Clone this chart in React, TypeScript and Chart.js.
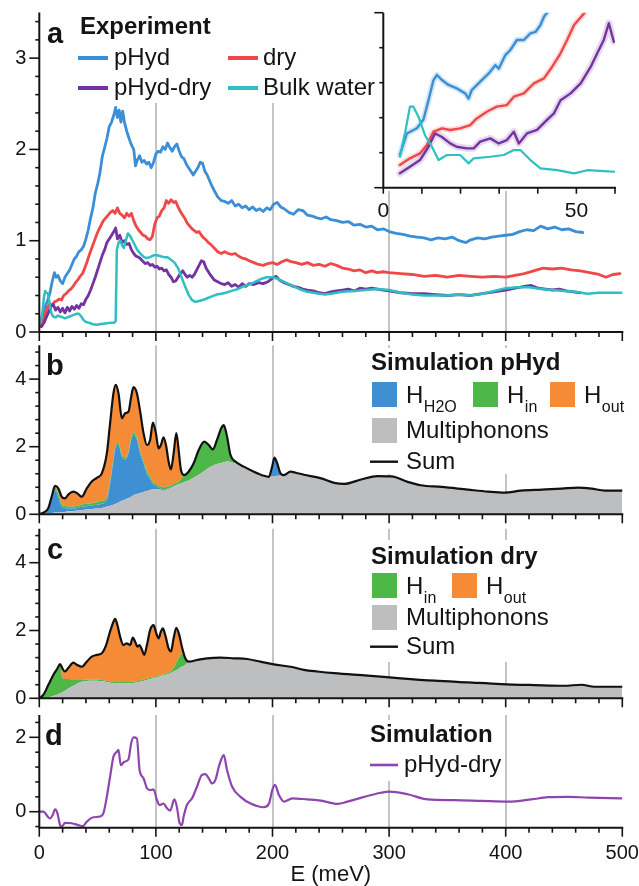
import React, { useEffect, useRef } from 'react';
import { Chart, registerables } from 'chart.js';
Chart.register(...registerables);

const FONT = "'Liberation Sans', Arial, Helvetica, sans-serif";
const INK = '#141414';
const GRID = '#c4c4c4';

const C_PHYD = '#3a8fd6';
const C_DRY = '#ef4848';
const C_DIFF = '#7333a0';
const C_BULK = '#2ebfc2';
const C_H2O = '#3f90d3';
const C_IN = '#4db848';
const C_OUT = '#f58b37';
const C_MULTI = '#bcbec0';
const C_SIMDIFF = '#8e45ae';

// ---------------- Panel a : experiment ----------------
const pHydE = [
  1.5, 3, 5, 7, 9, 11, 13, 14.5, 16, 18,
  20, 22, 24, 26, 28, 30, 32, 34, 36, 38,
  40, 42, 44, 46, 48, 50, 52, 54, 56, 58,
  60, 62, 64, 65.5, 67, 68.5, 70, 71.5, 73, 75,
  77, 79, 81, 82.5, 84, 86, 88, 90, 92, 94,
  96, 98, 100, 102, 104, 106, 108, 110, 112, 114,
  116, 118, 120, 122, 124, 126, 128, 130, 132, 134,
  136, 138, 140, 142, 144, 146, 148, 150, 153, 156,
  159, 162, 165, 168, 171, 174, 177, 180, 183, 186,
  189, 192, 195, 198, 201, 204, 207, 210, 214, 218,
  222, 226, 230, 234, 238, 242, 246, 250, 255, 260,
  265, 270, 275, 280, 285, 290, 295, 300, 306, 312,
  318, 324, 330, 336, 342, 348, 354, 360, 366, 370,
  376, 382, 388, 394, 400, 406, 412, 418, 424, 430,
  436, 442, 448, 454, 460, 466,
];
const pHydI = [
  0.1, 0.2, 0.28, 0.34, 0.42, 0.55, 0.65, 0.6, 0.62, 0.56,
  0.53, 0.6, 0.64, 0.68, 0.74, 0.8, 0.83, 0.88, 0.9, 0.94,
  1.02, 1.12, 1.25, 1.36, 1.52, 1.62, 1.74, 1.92, 2.02, 2.12,
  2.25, 2.3, 2.38, 2.46, 2.35, 2.43, 2.3, 2.42, 2.3, 2.2,
  2.12, 2.05, 2.0, 1.82, 1.88, 1.93, 1.86, 1.88, 1.84, 1.86,
  1.8, 1.86, 1.95, 1.98, 1.97, 2.03, 2.0, 2.07, 2.02, 1.98,
  2.03, 2.06, 1.98, 1.92, 1.9, 1.84, 1.8, 1.76, 1.72, 1.76,
  1.8, 1.86, 1.85, 1.76, 1.72, 1.66, 1.6, 1.55, 1.48, 1.44,
  1.43, 1.41, 1.44, 1.38, 1.4, 1.36, 1.38, 1.34, 1.37, 1.33,
  1.35, 1.32, 1.36, 1.34, 1.4, 1.42, 1.37, 1.35, 1.31, 1.29,
  1.34, 1.33, 1.28, 1.27, 1.25, 1.24, 1.26, 1.23, 1.22, 1.2,
  1.21, 1.17, 1.18, 1.15, 1.16, 1.12, 1.13, 1.1, 1.08, 1.07,
  1.05, 1.04, 1.03, 1.01, 1.03, 1.02, 1.04, 1.0, 0.98, 1.01,
  1.03, 1.02, 1.04, 1.05, 1.06, 1.07, 1.1, 1.12, 1.11, 1.16,
  1.13, 1.15, 1.12, 1.13, 1.1, 1.09,
];

const dryE = [
  1, 3, 5, 7, 9, 11, 13, 15, 17, 19,
  21, 23, 25, 27, 29, 31, 33, 35, 37, 39,
  41, 43, 45, 47, 49, 51, 53, 55, 57, 59,
  61, 63, 65, 67, 69, 71, 73, 75, 77, 79,
  81, 83, 85, 87, 89, 91, 93, 95, 97, 99,
  101, 103, 105, 107, 109, 111, 113, 115, 117, 119,
  121, 123, 125, 127, 129, 131, 133, 135, 137, 139,
  141, 143, 145, 147, 150, 153, 156, 159, 162, 165,
  168, 171, 174, 177, 180, 184, 188, 192, 196, 200,
  204, 208, 212, 216, 220, 225, 230, 235, 240, 245,
  250, 255, 260, 265, 270, 275, 280, 285, 290, 295,
  300, 310, 320, 330, 340, 350, 360, 370, 380, 390,
  400, 408, 416, 424, 432, 440, 448, 456, 464, 472,
  480, 486, 492, 498,
];
const dryI = [
  0.06, 0.12, 0.2, 0.27, 0.31, 0.29, 0.33, 0.34, 0.36, 0.35,
  0.4, 0.42, 0.45, 0.47, 0.5, 0.54, 0.57, 0.61, 0.64, 0.7,
  0.77, 0.85, 0.92, 0.99, 1.06, 1.12, 1.17, 1.22, 1.25, 1.28,
  1.31, 1.33, 1.3, 1.36, 1.3, 1.28, 1.25, 1.3, 1.27, 1.3,
  1.22, 1.16, 1.12, 1.09, 1.06, 1.05, 1.02, 1.01, 1.05, 1.18,
  1.25, 1.27, 1.33, 1.36, 1.44, 1.41, 1.45, 1.42, 1.43, 1.37,
  1.32, 1.28, 1.24, 1.19, 1.16, 1.13, 1.11, 1.09, 1.1, 1.06,
  1.03, 1.01, 0.98, 0.96, 0.92, 0.88, 0.86, 0.88, 0.86, 0.85,
  0.86, 0.83, 0.81, 0.8, 0.78, 0.76, 0.74, 0.73, 0.75, 0.76,
  0.74, 0.77, 0.79, 0.77, 0.76, 0.74, 0.76, 0.73, 0.74, 0.72,
  0.75, 0.73, 0.7, 0.69, 0.67, 0.68, 0.65, 0.67, 0.65, 0.66,
  0.65, 0.64, 0.63, 0.61, 0.62, 0.6, 0.62, 0.61, 0.6, 0.61,
  0.6, 0.62, 0.64, 0.67, 0.7, 0.69, 0.7, 0.68, 0.67, 0.65,
  0.63, 0.6, 0.63, 0.64,
];

const diffE = [
  2, 4, 6, 8, 10, 12, 14, 16, 18, 20,
  22, 24, 26, 28, 30, 32, 34, 36, 38, 40,
  42, 44, 46, 48, 50, 52, 54, 56, 58, 60,
  62, 64, 65.5, 67, 69, 71, 73, 75, 77, 79,
  81, 83, 85, 87, 89, 91, 93, 95, 97, 99,
  101, 103, 105, 107, 109, 111, 113, 115, 117, 119,
  121, 123, 125, 127, 129, 131, 133, 135, 137, 139,
  141, 143, 145, 147, 150, 153, 156, 159, 162, 165,
  168, 171, 174, 177, 180, 184, 188, 192, 196, 200,
  203, 206, 210, 214, 218, 222, 226, 230, 235, 240,
  245, 250, 255, 260, 265, 270, 275, 280, 285, 290,
  295, 300, 310, 320, 330, 340, 350, 360, 370, 380,
  390, 400, 408, 416, 422, 428, 434, 440, 446, 452,
  458, 464,
];
const diffI = [
  0.06, 0.1, 0.16, 0.22, 0.28, 0.3, 0.24, 0.27, 0.22, 0.26,
  0.21, 0.27, 0.23, 0.28, 0.25, 0.29, 0.26, 0.31, 0.3, 0.36,
  0.4, 0.46, 0.53, 0.6, 0.68, 0.76, 0.84, 0.9, 0.98, 1.02,
  1.06, 1.1, 1.14, 1.02, 1.06, 0.98, 1.0, 0.96, 0.97, 0.9,
  0.86, 0.83, 0.82, 0.8, 0.77, 0.75, 0.76, 0.73, 0.74, 0.71,
  0.72, 0.69, 0.7, 0.67, 0.68, 0.63, 0.6, 0.55, 0.56, 0.6,
  0.64, 0.67, 0.63, 0.6, 0.62, 0.6, 0.63, 0.68, 0.73, 0.78,
  0.77, 0.7, 0.66, 0.62, 0.57, 0.55, 0.53, 0.52, 0.54, 0.5,
  0.52, 0.49, 0.53, 0.5, 0.53, 0.52, 0.54, 0.53, 0.55, 0.59,
  0.61, 0.57, 0.54, 0.52, 0.5, 0.49, 0.47, 0.46, 0.45, 0.43,
  0.42, 0.44, 0.45, 0.46, 0.47, 0.45, 0.48, 0.47, 0.48, 0.47,
  0.46, 0.45, 0.43, 0.42, 0.42, 0.41, 0.4, 0.41, 0.4, 0.42,
  0.44, 0.46, 0.48, 0.5, 0.51, 0.48, 0.47, 0.46, 0.47, 0.45,
  0.44, 0.43,
];

const bulkE = [
  1, 2.5, 4, 5, 6, 7.5, 9, 10.5, 12, 14,
  16, 18, 20, 22, 24, 26, 28, 30, 32, 34,
  36, 38, 40, 43, 46, 49, 52, 55, 58, 61,
  64, 65.5, 66.5, 68, 69.5, 71, 72.5, 74, 76, 78,
  80, 82, 84, 86, 88, 90, 92, 95, 98, 101,
  104, 107, 110, 113, 116, 119, 122, 125, 128, 131,
  134, 137, 140, 144, 148, 152, 156, 160, 165, 170,
  175, 180, 185, 190, 195, 200, 205, 210, 215, 220,
  225, 230, 235, 240, 245, 250, 255, 260, 270, 280,
  290, 300, 310, 320, 330, 340, 350, 360, 370, 380,
  390, 400, 410, 420, 430, 440, 450, 460, 470, 480,
  490, 500,
];
const bulkI = [
  0.1, 0.2, 0.38, 0.45, 0.43, 0.42, 0.3, 0.2, 0.17, 0.16,
  0.18, 0.17, 0.16, 0.15, 0.16, 0.17, 0.18, 0.19, 0.2, 0.2,
  0.17, 0.13, 0.11, 0.1, 0.085, 0.08, 0.085, 0.09, 0.095, 0.1,
  0.1, 0.12, 0.9, 0.98, 1.0, 0.95, 0.92, 0.99, 1.08, 1.05,
  1.0, 0.95, 0.9, 0.87, 0.84, 0.82, 0.81, 0.82, 0.84, 0.84,
  0.83, 0.82, 0.82, 0.79, 0.76, 0.7, 0.6, 0.5, 0.41, 0.35,
  0.33, 0.34, 0.35, 0.37, 0.39, 0.41, 0.42, 0.43, 0.45, 0.47,
  0.5, 0.52, 0.55, 0.58, 0.6, 0.6, 0.58, 0.55, 0.52, 0.49,
  0.46, 0.44, 0.43, 0.42, 0.41, 0.42, 0.43, 0.44, 0.45, 0.46,
  0.47, 0.46, 0.43, 0.41, 0.4, 0.4, 0.4, 0.41, 0.4, 0.42,
  0.45, 0.48, 0.49, 0.49, 0.47, 0.46, 0.45, 0.44, 0.42, 0.43,
  0.43, 0.43,
];

// ---------------- Panel a inset (0-60 meV) ----------------
const insPHydE = [4.3, 6.1, 8.7, 10.4, 11.7, 13, 13.9, 15.2, 16.9, 19, 21.2, 22.1, 22.9, 25.1, 27.3, 29, 29.9, 31.6, 32.9, 34.6, 36.4, 38.1, 39.4, 40.7, 41.6, 42.4, 45];
const insPHydI = [0.187, 0.31, 0.34, 0.39, 0.5, 0.615, 0.644, 0.615, 0.587, 0.568, 0.539, 0.51, 0.558, 0.606, 0.653, 0.7, 0.68, 0.758, 0.787, 0.844, 0.844, 0.882, 0.89, 0.93, 0.977, 1.0, 1.08];
const insDryE = [4.3, 6.9, 9.5, 11.3, 13, 15.2, 17.3, 19.9, 22.5, 24.2, 26.8, 29.4, 32, 33.8, 36.4, 39, 41.6, 43.7, 45.9, 47.6, 49.4, 52, 54];
const insDryI = [0.13, 0.168, 0.196, 0.244, 0.32, 0.339, 0.33, 0.339, 0.358, 0.396, 0.434, 0.463, 0.472, 0.52, 0.539, 0.596, 0.625, 0.69, 0.768, 0.844, 0.93, 0.996, 1.06];
const insDiffE = [4.3, 6.9, 9.5, 11.7, 13.4, 15.2, 17.3, 19, 21.6, 23.4, 25.1, 27.7, 29.9, 32, 33.8, 35.1, 37.2, 39.8, 42.4, 44.2, 45.9, 48.5, 51.1, 53.7, 55.4, 57.1, 58.4, 59.7];
const insDiffI = [0.082, 0.12, 0.158, 0.234, 0.31, 0.29, 0.253, 0.234, 0.225, 0.225, 0.263, 0.282, 0.253, 0.272, 0.32, 0.253, 0.31, 0.33, 0.387, 0.425, 0.5, 0.539, 0.596, 0.69, 0.768, 0.844, 0.94, 0.834];
const insBulkE = [4.3, 5.6, 6.9, 7.8, 9.1, 10.8, 12.6, 14.3, 16.5, 19.9, 22.1, 23.4, 27.7, 31.2, 33.8, 35.5, 38.1, 40.7, 45, 49.4, 52.8, 57.1, 60];
const insBulkI = [0.177, 0.31, 0.463, 0.463, 0.406, 0.3, 0.234, 0.158, 0.187, 0.187, 0.139, 0.168, 0.177, 0.187, 0.215, 0.215, 0.158, 0.11, 0.1, 0.082, 0.1, 0.095, 0.091];

// ---------------- Panel b : simulation pHyd (layer tops) ----------------
const bE = [
  0, 3.4, 7.7, 10.6, 13.5, 16.3, 19.2, 22, 25, 29.2,
  32.7, 36.4, 40.7, 45, 49.3, 53.6, 57.9, 60.7, 63.6, 65.6,
  67.9, 70.8, 73.6, 76.5, 78.8, 80.8, 83.7, 86.5, 89.4, 92.3,
  95, 97.4, 100, 102.3, 104.3, 106.6, 108.9, 110.9, 112.9, 115.2,
  117.5, 119.5, 121.5, 124.4, 128, 132.4, 136.7, 141.5, 145.3, 148.7,
  152.4, 155.9, 158.2, 161, 163.9, 168.2, 175.4, 184, 192.6, 196.8,
  199.7, 201.7, 204, 206.9, 209.7, 215.5, 220, 227, 241, 253,
  261.5, 276, 290, 302, 316, 327, 345, 367.5, 385, 399,
  413, 431, 448, 462, 473.5, 485, 500,
];
const bMulti = [
  0, 0.01, 0.03, 0.04, 0.05, 0.05, 0.06, 0.07, 0.09, 0.1,
  0.11, 0.12, 0.14, 0.16, 0.17, 0.19, 0.23, 0.25, 0.28, 0.31,
  0.35, 0.4, 0.44, 0.48, 0.52, 0.56, 0.6, 0.63, 0.66, 0.69,
  0.72, 0.74, 0.75, 0.74, 0.73, 0.72, 0.73, 0.75, 0.78, 0.82,
  0.86, 0.88, 0.91, 0.95, 1.0, 1.08, 1.17, 1.28, 1.38, 1.44,
  1.49, 1.52, 1.54, 1.56, 1.55, 1.5, 1.41, 1.26, 1.14, 1.11,
  1.12, 1.13, 1.14, 1.15, 1.16, 1.26, 1.23, 1.17, 1.07, 0.93,
  0.9, 1.03, 1.11, 1.1, 0.95, 0.86, 0.81, 0.73, 0.67, 0.64,
  0.7, 0.73, 0.76, 0.79, 0.76, 0.7, 0.7,
];
const bH2OTop = [
  0, 0.04, 0.14, 0.45, 0.72, 0.52, 0.23, 0.19, 0.17, 0.17,
  0.19, 0.22, 0.24, 0.26, 0.28, 0.31, 0.42, 0.9, 1.6, 2.0,
  2.05, 1.7, 1.62, 1.8, 2.2, 2.35, 2.2, 1.8, 1.5, 1.2,
  1.05, 0.9, 0.83, 0.79, 0.76, 0.74, 0.75, 0.77, 0.8, 0.84,
  0.87, 0.89, 0.92, 0.96, 1.0, 1.08, 1.17, 1.28, 1.38, 1.44,
  1.49, 1.52, 1.54, 1.56, 1.55, 1.5, 1.41, 1.26, 1.14, 1.11,
  1.41, 1.68, 1.51, 1.21, 1.16, 1.26, 1.23, 1.17, 1.07, 0.93,
  0.9, 1.03, 1.11, 1.1, 0.95, 0.86, 0.81, 0.73, 0.67, 0.64,
  0.7, 0.73, 0.76, 0.79, 0.76, 0.7, 0.7,
];
const bInTop = [
  0, 0.05, 0.17, 0.5, 0.8, 0.62, 0.3, 0.25, 0.23, 0.23,
  0.25, 0.29, 0.31, 0.33, 0.36, 0.4, 0.5, 0.98, 1.66, 2.06,
  2.11, 1.76, 1.68, 1.86, 2.28, 2.42, 2.27, 1.87, 1.57, 1.27,
  1.12, 0.97, 0.89, 0.85, 0.82, 0.8, 0.81, 0.83, 0.86, 0.9,
  0.93, 0.96, 1.05, 1.16, 1.26, 1.51, 1.9, 2.15, 2.05, 1.92,
  2.2, 2.54, 2.64, 2.3, 1.76, 1.56, 1.41, 1.26, 1.14, 1.11,
  1.41, 1.68, 1.51, 1.21, 1.16, 1.26, 1.23, 1.17, 1.07, 0.93,
  0.9, 1.03, 1.13, 1.12, 0.96, 0.86, 0.81, 0.73, 0.67, 0.64,
  0.7, 0.73, 0.76, 0.79, 0.76, 0.7, 0.7,
];
const bSum = [
  0, 0.05, 0.18, 0.52, 0.84, 0.77, 0.52, 0.47, 0.59, 0.67,
  0.62, 0.52, 0.77, 0.97, 1.08, 1.21, 1.8, 2.69, 3.58, 3.83,
  3.58, 2.84, 2.99, 3.04, 3.48, 3.76, 3.58, 3.04, 2.4, 2.05,
  2.2, 2.71, 2.4, 1.95, 2.05, 2.28, 2.0, 1.56, 1.33, 1.8,
  2.4, 1.9, 1.31, 1.16, 1.26, 1.51, 1.9, 2.15, 2.05, 1.92,
  2.2, 2.54, 2.64, 2.3, 1.76, 1.56, 1.41, 1.26, 1.14, 1.11,
  1.41, 1.68, 1.51, 1.21, 1.16, 1.26, 1.23, 1.17, 1.07, 0.93,
  0.9, 1.03, 1.13, 1.12, 0.96, 0.86, 0.81, 0.73, 0.67, 0.64,
  0.7, 0.73, 0.76, 0.79, 0.76, 0.7, 0.7,
];

// ---------------- Panel c : simulation dry (layer tops) ----------------
const cE = [
  0, 3.4, 7.7, 12, 15.5, 17.8, 19.8, 22, 24.9, 29.2,
  32.7, 36.4, 40.7, 45, 49.3, 53.6, 57.3, 60.7, 63.6, 65,
  67, 69.3, 72.2, 75, 77.9, 80.2, 82.2, 84.2, 86, 88,
  90, 92.3, 95.1, 98, 100.3, 102.3, 104.3, 106, 108, 110.9,
  112.9, 115.2, 117.5, 120, 122.3, 125.2, 128.1, 135.2, 143.8, 155.3,
  166.8, 178.2, 189.7, 201.1, 215.5, 227, 238.5, 253, 281.5, 310,
  339, 367.5, 396, 425, 450, 465, 476, 500,
];
const cMulti = [
  0, 0.01, 0.03, 0.07, 0.11, 0.15, 0.18, 0.22, 0.29, 0.37,
  0.44, 0.49, 0.51, 0.52, 0.52, 0.5, 0.48, 0.46, 0.45, 0.44,
  0.44, 0.44, 0.44, 0.44, 0.45, 0.45, 0.46, 0.47, 0.48, 0.5,
  0.52, 0.54, 0.56, 0.59, 0.61, 0.63, 0.65, 0.67, 0.69, 0.72,
  0.75, 0.79, 0.83, 0.88, 0.93, 0.98, 1.08, 1.13, 1.18, 1.2,
  1.18, 1.16, 1.08, 1.0, 0.93, 0.84, 0.79, 0.74, 0.67, 0.59,
  0.52, 0.47, 0.42, 0.39, 0.37, 0.4, 0.34, 0.34,
];
const cInTop = [
  0, 0.1, 0.39, 0.69, 0.88, 0.98, 0.62, 0.57, 0.57, 0.56,
  0.56, 0.56, 0.55, 0.55, 0.55, 0.54, 0.52, 0.5, 0.49, 0.48,
  0.48, 0.48, 0.48, 0.48, 0.49, 0.49, 0.5, 0.51, 0.52, 0.54,
  0.56, 0.58, 0.6, 0.62, 0.64, 0.66, 0.68, 0.7, 0.72, 0.76,
  0.8, 0.9, 1.05, 1.22, 1.33, 1.18, 1.08, 1.13, 1.18, 1.2,
  1.18, 1.16, 1.08, 1.0, 0.93, 0.84, 0.79, 0.74, 0.67, 0.59,
  0.52, 0.47, 0.42, 0.39, 0.37, 0.4, 0.34, 0.34,
];
const cSum = [
  0, 0.1, 0.39, 0.69, 0.88, 1.01, 0.88, 0.79, 0.9, 1.05,
  0.98, 0.93, 1.08, 1.23, 1.28, 1.33, 1.57, 1.97, 2.26, 2.34,
  2.16, 1.82, 1.57, 1.62, 1.57, 1.79, 1.67, 1.52, 1.57, 1.43,
  1.28, 1.57, 2.02, 2.16, 1.92, 1.77, 1.97, 2.06, 1.87, 1.47,
  1.38, 1.77, 2.08, 1.87, 1.52, 1.18, 1.08, 1.13, 1.18, 1.2,
  1.18, 1.16, 1.08, 1.0, 0.93, 0.84, 0.79, 0.74, 0.67, 0.59,
  0.52, 0.47, 0.42, 0.39, 0.37, 0.4, 0.34, 0.34,
];

// ---------------- Panel d : simulated difference ----------------
const dE = [
  0, 3.4, 9.2, 11.5, 13.5, 15.5, 17.8, 19.2, 22.1, 27.8,
  33.5, 37.2, 40.7, 46.4, 52.1, 55, 57.9, 60.7, 63.6, 66.5,
  67.9, 69.9, 72.8, 76.5, 78.8, 80.8, 83.7, 86, 89.4, 92.3,
  95.1, 98, 100.9, 103.2, 106.6, 109.5, 112.3, 115.8, 118, 120,
  122.3, 123.8, 126.6, 131, 135.2, 139.5, 142.4, 145.3, 148.1, 151,
  153.9, 155.4, 158.2, 161, 165.4, 172.6, 181.2, 192.6, 197, 199.8,
  202.1, 205.5, 209.8, 217, 229.9, 241.4, 255.7, 264.3, 278.6, 293,
  300.1, 315.9, 333.1, 356, 379, 401.9, 422, 436.3, 453.5, 470.7,
  499.4,
];
const dSim = [
  0, 0, -0.18, -0.09, 0.06, -0.04, -0.36, -0.4, -0.3, -0.31,
  -0.36, -0.39, -0.27, -0.15, -0.13, -0.04, 0.4, 0.94, 1.48, 1.61,
  1.66, 1.25, 1.34, 1.41, 1.84, 2.0, 1.97, 1.12, 0.9, 0.63,
  0.58, 0.6, 0.31, 0.18, 0.22, 0.09, 0.03, 0.33, 0.13, -0.27,
  -0.36, -0.13, 0.18, 0.36, 0.67, 0.99, 1.01, 0.9, 0.76, 0.85,
  1.2, 1.35, 1.52, 1.12, 0.67, 0.4, 0.22, 0.12, 0.22, 0.58,
  0.72, 0.45, 0.27, 0.36, 0.33, 0.3, 0.21, 0.27, 0.4, 0.51,
  0.54, 0.47, 0.33, 0.31, 0.29, 0.27, 0.33, 0.39, 0.4, 0.38,
  0.36,
];

const pts = (xs: number[], ys: number[]) => xs.map((x, i) => ({ x, y: ys[i] }));

// ---------------- drawing helpers ----------------
function txt(ctx: CanvasRenderingContext2D, s: string, x: number, y: number, size: number, bold = false, base: CanvasTextBaseline = 'middle') {
  ctx.font = `${bold ? 'bold ' : ''}${size}px ${FONT}`;
  ctx.fillStyle = INK;
  ctx.textAlign = 'left';
  ctx.textBaseline = base;
  ctx.fillText(s, x, y);
}
function hSub(ctx: CanvasRenderingContext2D, subText: string, x: number, baseline: number) {
  txt(ctx, 'H', x, baseline, 24, false, 'alphabetic');
  const w = ctx.measureText('H').width;
  txt(ctx, subText, x + w + 0.5, baseline + 8.7, 16, false, 'alphabetic');
}
function swatch(ctx: CanvasRenderingContext2D, x: number, y: number, c: string) {
  ctx.fillStyle = c;
  ctx.fillRect(x, y, 25, 25);
}
function legLine(ctx: CanvasRenderingContext2D, x0: number, x1: number, y: number, c: string, w = 3.5) {
  ctx.strokeStyle = c;
  ctx.lineWidth = w;
  ctx.lineCap = 'butt';
  ctx.beginPath();
  ctx.moveTo(x0, y);
  ctx.lineTo(x1, y);
  ctx.stroke();
}
function letter(ctx: CanvasRenderingContext2D, s: string, x: number, baseline: number) {
  txt(ctx, s, x, baseline, 29, true, 'alphabetic');
}

// ---------------- panel spec ----------------
interface AxisSpec {
  min: number; max: number; minor: number; majorVals: number[];
  majorLen: number; minorLen: number;
  labels: number[]; labelStep: number; labelSize: number; labelPad: number;
  title?: string;
}
interface PanelSpec {
  key: string;
  left: number; top: number; width: number; height: number;
  area: { left: number; right: number; top: number; bottom: number };
  x: AxisSpec; y: AxisSpec;
  grid: number[];
  bgBoxes: number[][];
  boxes: number[][];
  datasets: any[];
  decorate: (ctx: CanvasRenderingContext2D) => void;
}

const xMain = (labels: number[], title?: string): AxisSpec => ({
  min: 0, max: 500, minor: 20, majorVals: [0, 100, 200, 300, 400, 500],
  majorLen: 9, minorLen: 5, labels, labelStep: 100, labelSize: 20, labelPad: 13.8, title,
});
const yLab = { labelSize: 20, labelPad: 13 };

function buildChart(canvas: HTMLCanvasElement, s: PanelSpec) {
  const padTop = s.area.top - s.top;
  const yW = s.area.left - s.left;
  const padRight = s.left + s.width - s.area.right;
  const xH = s.top + s.height - s.area.bottom;

  const deco = {
    id: 'deco',
    beforeDraw(chart: any) {
      const ctx = chart.ctx as CanvasRenderingContext2D;
      ctx.save();
      ctx.translate(-s.left, -s.top);
      ctx.fillStyle = '#ffffff';
      s.bgBoxes.forEach((b) => ctx.fillRect(b[0], b[1], b[2], b[3]));
      ctx.restore();
    },
    beforeDatasetsDraw(chart: any) {
      const ctx = chart.ctx as CanvasRenderingContext2D;
      const a = chart.chartArea;
      const xs = chart.scales.x;
      ctx.save();
      ctx.strokeStyle = GRID;
      ctx.lineWidth = 2;
      s.grid.forEach((v) => {
        const px = Math.round(xs.getPixelForValue(v));
        ctx.beginPath();
        ctx.moveTo(px, a.top);
        ctx.lineTo(px, a.bottom);
        ctx.stroke();
      });
      ctx.translate(-s.left, -s.top);
      ctx.fillStyle = '#ffffff';
      s.boxes.forEach((b) => ctx.fillRect(b[0], b[1], b[2], b[3]));
      ctx.restore();
    },
    afterDraw(chart: any) {
      const ctx = chart.ctx as CanvasRenderingContext2D;
      const a = chart.chartArea;
      const xs = chart.scales.x;
      const ys = chart.scales.y;
      ctx.save();
      ctx.strokeStyle = INK;
      ctx.lineWidth = 2;
      ctx.lineJoin = 'miter';
      ctx.beginPath();
      ctx.moveTo(a.left, a.top);
      ctx.lineTo(a.left, a.bottom);
      ctx.lineTo(a.right + 1, a.bottom);
      ctx.stroke();
      ctx.lineWidth = 1.6;
      const yt = s.y;
      for (let k = Math.ceil(yt.min / yt.minor - 1e-6); k * yt.minor <= yt.max + 1e-6; k++) {
        const v = Math.round(k * yt.minor * 1000) / 1000;
        const major = yt.majorVals.some((m) => Math.abs(m - v) < 1e-6);
        const len = major ? yt.majorLen : yt.minorLen;
        const py = ys.getPixelForValue(v);
        ctx.beginPath();
        ctx.moveTo(a.left - len, py);
        ctx.lineTo(a.left, py);
        ctx.stroke();
      }
      const xt = s.x;
      for (let k = Math.ceil(xt.min / xt.minor - 1e-6); k * xt.minor <= xt.max + 1e-6; k++) {
        const v = Math.round(k * xt.minor * 1000) / 1000;
        const major = xt.majorVals.some((m) => Math.abs(m - v) < 1e-6);
        const len = major ? xt.majorLen : xt.minorLen;
        const px = xs.getPixelForValue(v);
        ctx.beginPath();
        ctx.moveTo(px, a.bottom);
        ctx.lineTo(px, a.bottom + len);
        ctx.stroke();
      }
      ctx.translate(-s.left, -s.top);
      s.decorate(ctx);
      ctx.restore();
    },
  };

  const fitFix = (size: { w?: number; h?: number }) => (sc: any) => {
    if (size.w !== undefined) sc.width = size.w;
    if (size.h !== undefined) sc.height = size.h;
    sc.paddingLeft = 0;
    sc.paddingRight = 0;
    sc.paddingTop = 0;
    sc.paddingBottom = 0;
  };

  return new Chart(canvas, {
    type: 'line',
    data: { datasets: s.datasets },
    options: {
      animation: false,
      responsive: false,
      maintainAspectRatio: false,
      events: [],
      layout: { padding: { top: padTop, right: padRight, bottom: 0, left: 0 } },
      plugins: { legend: { display: false }, tooltip: { enabled: false }, title: { display: false } },
      elements: { point: { radius: 0 }, line: { borderJoinStyle: 'round', borderCapStyle: 'round' } },
      scales: {
        x: {
          type: 'linear', position: 'bottom', min: s.x.min, max: s.x.max,
          grid: { display: false, drawTicks: false }, border: { display: false },
          ticks: {
            display: s.x.labels.length > 0, stepSize: s.x.labelStep, autoSkip: false, maxRotation: 0,
            includeBounds: false, padding: s.x.labelPad, color: INK,
            font: { family: FONT, size: s.x.labelSize },
            callback: (v: any) => (s.x.labels.includes(Number(v)) ? String(v) : ''),
          },
          title: { display: !!s.x.title, text: s.x.title || '', color: INK, font: { family: FONT, size: 22 }, padding: 0 },
          afterFit: fitFix({ h: xH }),
        },
        y: {
          type: 'linear', position: 'left', min: s.y.min, max: s.y.max,
          grid: { display: false, drawTicks: false }, border: { display: false },
          ticks: {
            display: s.y.labels.length > 0, stepSize: s.y.labelStep, includeBounds: false,
            padding: s.y.labelPad, color: INK, font: { family: FONT, size: s.y.labelSize },
            callback: (v: any) => (s.y.labels.includes(Number(v)) ? String(v) : ''),
          },
          afterFit: fitFix({ w: yW }),
        },
      },
    } as any,
    plugins: [deco],
  });
}

const lineDs = (label: string, data: any[], color: string, width: number, order = 0, extra: any = {}) => ({
  label, data, borderColor: color, backgroundColor: color, borderWidth: width,
  pointRadius: 0, fill: false, tension: 0, order, ...extra,
});
const areaDs = (label: string, data: any[], color: string, fill: any) => ({
  label, data, borderColor: 'rgba(0,0,0,0)', backgroundColor: color, borderWidth: 0,
  pointRadius: 0, fill, cubicInterpolationMode: 'monotone', order: 1,
});

// ---------------- specs ----------------
const specA: PanelSpec = {
  key: 'a', left: 0, top: 0, width: 639, height: 345,
  area: { left: 39.3, right: 622.3, top: 12.5, bottom: 332 },
  x: xMain([]),
  y: { min: 0, max: 3.5, minor: 0.2, majorVals: [0, 1, 2, 3], majorLen: 10, minorLen: 4, labels: [0, 1, 2, 3], labelStep: 1, ...yLab },
  grid: [100, 200, 300, 400],
  bgBoxes: [],
  boxes: [[66, 0, 311, 103]],
  datasets: [
    lineDs('Bulk water', pts(bulkE, bulkI), C_BULK, 2.5, 1),
    lineDs('pHyd-dry', pts(diffE, diffI), C_DIFF, 2.8, 2),
    lineDs('dry', pts(dryE, dryI), C_DRY, 2.8, 3),
    lineDs('pHyd', pts(pHydE, pHydI), C_PHYD, 2.8, 4),
  ],
  decorate: (ctx) => {
    letter(ctx, 'a', 47, 43);
    txt(ctx, 'Experiment', 80, 27, 24, true);
    legLine(ctx, 78, 108, 58, C_PHYD, 4);
    txt(ctx, 'pHyd', 114, 58, 24);
    legLine(ctx, 228, 258, 58, C_DRY, 4);
    txt(ctx, 'dry', 263, 58, 24);
    legLine(ctx, 78, 108, 88, C_DIFF, 4);
    txt(ctx, 'pHyd-dry', 114, 88, 24);
    legLine(ctx, 228, 258, 88, C_BULK, 4);
    txt(ctx, 'Bulk water', 263, 88, 24);
  },
};

const specInset: PanelSpec = {
  key: 'inset', left: 370, top: 0, width: 269, height: 225,
  area: { left: 383.3, right: 615, top: 12.7, bottom: 187.7 },
  x: { min: 0, max: 60, minor: 10, majorVals: [0, 10, 20, 30, 40, 50, 60], majorLen: 6, minorLen: 6, labels: [0, 50], labelStep: 10, labelSize: 21, labelPad: 11 },
  y: { min: 0, max: 1, minor: 0.2, majorVals: [0, 1], majorLen: 9, minorLen: 4, labels: [], labelStep: 0.2, labelSize: 18, labelPad: 4 },
  grid: [],
  bgBoxes: [[377, 0, 262, 191]],
  boxes: [],
  datasets: [
    lineDs('Bulk water', pts(insBulkE, insBulkI), C_BULK, 2.2, 1),
    lineDs('pHyd-dry', pts(insDiffE, insDiffI), C_DIFF, 2.4, 2),
    lineDs('dry', pts(insDryE, insDryI), C_DRY, 2.4, 3),
    lineDs('pHyd', pts(insPHydE, insPHydI), C_PHYD, 2.4, 4),
    lineDs('pHyd-dry err', pts(insDiffE, insDiffI), 'rgba(140,80,180,0.22)', 7, 5),
    lineDs('dry err', pts(insDryE, insDryI), 'rgba(239,72,72,0.18)', 6, 6),
    lineDs('pHyd err', pts(insPHydE, insPHydI), 'rgba(58,143,214,0.22)', 6, 7),
  ],
  decorate: () => {},
};

const specB: PanelSpec = {
  key: 'b', left: 0, top: 335, width: 639, height: 190,
  area: { left: 39.3, right: 622.3, top: 345.3, bottom: 514.3 },
  x: xMain([]),
  y: { min: 0, max: 5, minor: 0.4, majorVals: [0, 2, 4], majorLen: 10, minorLen: 4, labels: [0, 2, 4], labelStep: 2, ...yLab },
  grid: [100, 200, 300, 400],
  bgBoxes: [],
  boxes: [[365, 348, 262, 126]],
  datasets: [
    areaDs('Multiphonons', pts(bE, bMulti), C_MULTI, 'origin'),
    areaDs('H_H2O', pts(bE, bH2OTop), C_H2O, '-1'),
    areaDs('H_in', pts(bE, bInTop), C_IN, '-1'),
    areaDs('H_out', pts(bE, bSum), C_OUT, '-1'),
    { ...lineDs('Sum', pts(bE, bSum), '#111111', 2.2, -1), cubicInterpolationMode: 'monotone' },
  ],
  decorate: (ctx) => {
    letter(ctx, 'b', 46, 375);
    txt(ctx, 'Simulation pHyd', 371, 363, 24, true);
    swatch(ctx, 372, 382, C_H2O);
    hSub(ctx, 'H2O', 406, 403);
    swatch(ctx, 473, 382, C_IN);
    hSub(ctx, 'in', 507, 403);
    swatch(ctx, 550, 382, C_OUT);
    hSub(ctx, 'out', 584, 403);
    swatch(ctx, 372, 418, C_MULTI);
    txt(ctx, 'Multiphonons', 406, 431, 24);
    legLine(ctx, 370, 398, 461.7, '#111111', 2.4);
    txt(ctx, 'Sum', 406, 462, 24);
  },
};

const specC: PanelSpec = {
  key: 'c', left: 0, top: 520, width: 639, height: 190,
  area: { left: 39.3, right: 622.3, top: 528.8, bottom: 698.3 },
  x: xMain([]),
  y: { min: 0, max: 5, minor: 0.4, majorVals: [0, 2, 4], majorLen: 10, minorLen: 4, labels: [0, 2, 4], labelStep: 2, ...yLab },
  grid: [100, 200, 300, 400],
  bgBoxes: [],
  boxes: [[365, 540, 262, 122]],
  datasets: [
    areaDs('Multiphonons', pts(cE, cMulti), C_MULTI, 'origin'),
    areaDs('H_in', pts(cE, cInTop), C_IN, '-1'),
    areaDs('H_out', pts(cE, cSum), C_OUT, '-1'),
    { ...lineDs('Sum', pts(cE, cSum), '#111111', 2.2, -1), cubicInterpolationMode: 'monotone' },
  ],
  decorate: (ctx) => {
    letter(ctx, 'c', 47, 559);
    txt(ctx, 'Simulation dry', 371, 557, 24, true);
    swatch(ctx, 372, 573, C_IN);
    hSub(ctx, 'in', 406, 594);
    swatch(ctx, 452, 573, C_OUT);
    hSub(ctx, 'out', 486, 594);
    swatch(ctx, 372, 605, C_MULTI);
    txt(ctx, 'Multiphonons', 406, 618, 24);
    legLine(ctx, 370, 398, 646.7, '#111111', 2.4);
    txt(ctx, 'Sum', 406, 647, 24);
  },
};

const specD: PanelSpec = {
  key: 'd', left: 0, top: 700, width: 639, height: 188,
  area: { left: 39.3, right: 622.3, top: 715, bottom: 827.7 },
  x: xMain([0, 100, 200, 300, 400, 500], 'E (meV)'),
  y: { min: -0.43, max: 2.6, minor: 0.4, majorVals: [0, 2], majorLen: 10, minorLen: 4, labels: [0, 2], labelStep: 2, ...yLab },
  grid: [100, 200, 300, 400],
  bgBoxes: [],
  boxes: [[365, 720, 135, 61]],
  datasets: [
    { ...lineDs('pHyd-dry', pts(dE, dSim), C_SIMDIFF, 2.2, 0), cubicInterpolationMode: 'monotone' },
  ],
  decorate: (ctx) => {
    letter(ctx, 'd', 45, 745);
    txt(ctx, 'Simulation', 370, 735, 24, true);
    legLine(ctx, 370, 398, 765, C_SIMDIFF, 2.6);
    txt(ctx, 'pHyd-dry', 404, 765, 24);
  },
};

function PanelCanvas({ spec }: { spec: PanelSpec }) {
  const ref = useRef<HTMLCanvasElement>(null);
  useEffect(() => {
    if (!ref.current) return;
    const chart = buildChart(ref.current, spec);
    return () => chart.destroy();
  }, [spec]);
  return (
    <canvas
      ref={ref}
      width={spec.width}
      height={spec.height}
      style={{ position: 'absolute', left: spec.left, top: spec.top, width: spec.width, height: spec.height }}
    />
  );
}

export default function App() {
  return (
    <div style={{ position: 'absolute', left: 0, top: 0, width: 639, height: 886, background: '#ffffff', overflow: 'hidden' }}>
      <PanelCanvas spec={specA} />
      <PanelCanvas spec={specInset} />
      <PanelCanvas spec={specB} />
      <PanelCanvas spec={specC} />
      <PanelCanvas spec={specD} />
    </div>
  );
}
